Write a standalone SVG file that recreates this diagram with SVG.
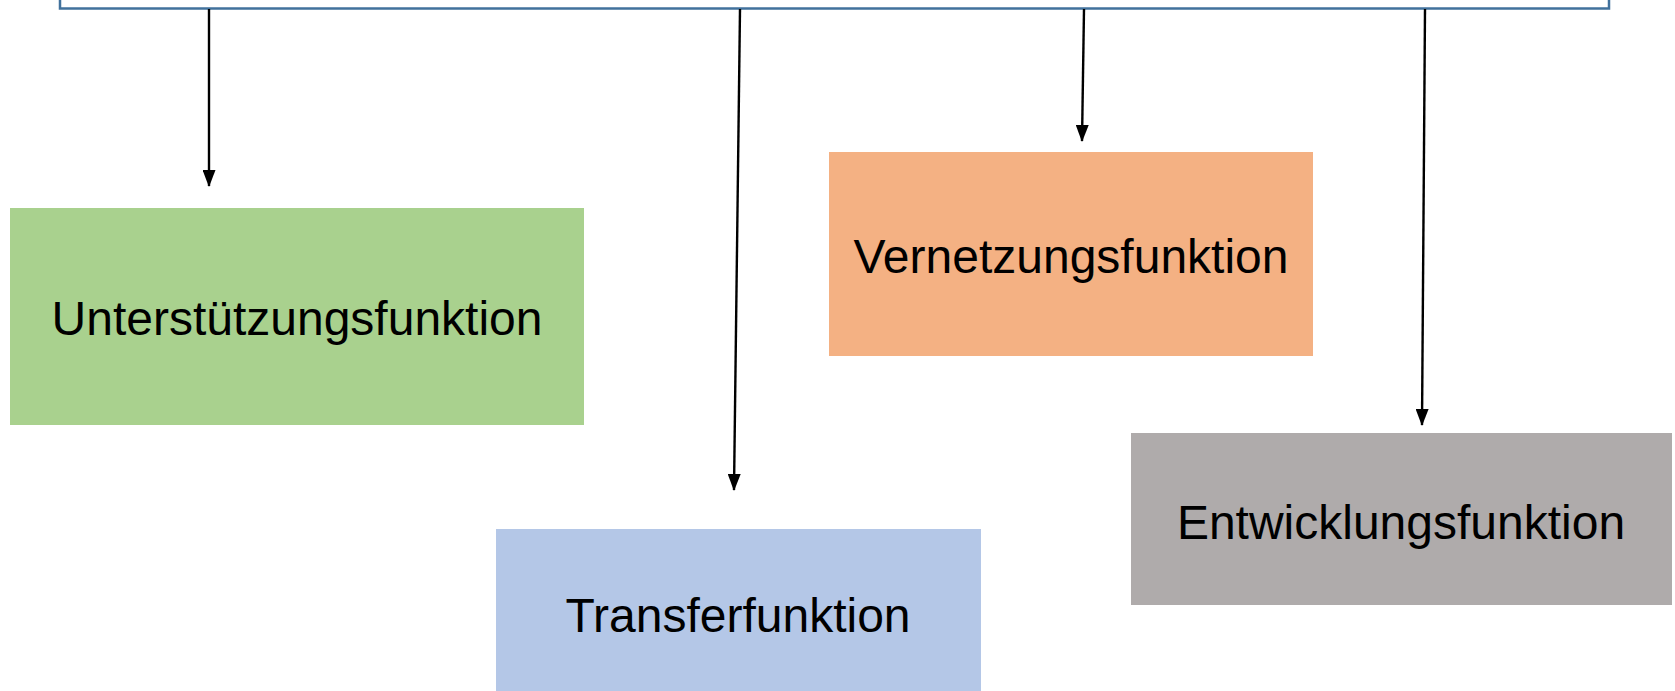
<svg xmlns="http://www.w3.org/2000/svg" width="1675" height="691" viewBox="0 0 1675 691">
<style>
.lbl{font-family:"Liberation Sans",Arial,sans-serif;font-size:48px;fill:#000;text-anchor:middle}
.conn{stroke:#000;stroke-width:2.4;fill:none;marker-end:url(#ah)}
</style>
<defs>
<marker id="ah" markerUnits="userSpaceOnUse" markerWidth="17" markerHeight="13" viewBox="0 0 17 13" refX="16" refY="6.5" orient="auto">
<path d="M0,0 L17,6.5 L0,13 Z" fill="#000"/>
</marker>
</defs>
<rect width="1675" height="691" fill="#fff"/>
<g id="top">
<rect x="60" y="-20" width="1549" height="28.5" fill="#fff" stroke="#41719C" stroke-width="2.5"/>
</g>
<g id="connectors">
<line class="conn" x1="209" y1="9" x2="209" y2="186"/>
<line class="conn" x1="740" y1="9" x2="734" y2="490"/>
<line class="conn" x1="1084" y1="9" x2="1082" y2="141"/>
<line class="conn" x1="1425" y1="9" x2="1422" y2="425"/>
</g>
<g id="unterstuetzung">
<rect x="10" y="208" width="574" height="217" fill="#A9D18E"/>
<text class="lbl" x="297" y="335">Unterstützungsfunktion</text>
</g>
<g id="transfer">
<rect x="496" y="529" width="485" height="162" fill="#B4C7E7"/>
<text class="lbl" x="738" y="632">Transferfunktion</text>
</g>
<g id="vernetzung">
<rect x="829" y="152" width="484" height="204" fill="#F4B183"/>
<text class="lbl" x="1071" y="273">Vernetzungsfunktion</text>
</g>
<g id="entwicklung">
<rect x="1131" y="433" width="541" height="172" fill="#AFABAB"/>
<text class="lbl" x="1401" y="539">Entwicklungsfunktion</text>
</g>
</svg>
